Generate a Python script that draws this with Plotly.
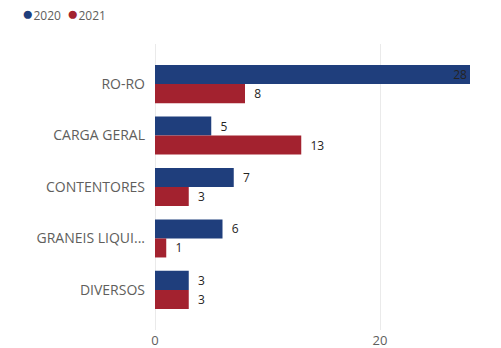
import plotly.graph_objects as go

categories = ["RO-RO", "CARGA GERAL", "CONTENTORES", "GRANEIS LIQUI...", "DIVERSOS"]
values_2020 = [28, 5, 7, 6, 3]
values_2021 = [8, 13, 3, 1, 3]
series_names = ["2020", "2021"]
colors = ["#1F3E7C", "#A3222F"]
x_ticks = [0, 20]

fig = go.Figure()
for name, vals, color in zip(series_names, [values_2020, values_2021], colors):
    positions = ["inside" if v >= 20 else "outside" for v in vals]
    templates = ["%{x}" if p == "inside" else "\u00a0\u00a0%{x}" for p in positions]
    fig.add_trace(go.Bar(
        name=name,
        y=categories,
        x=vals,
        orientation="h",
        marker=dict(color=color, line=dict(width=0)),
        textposition=positions,
        texttemplate=templates,
        insidetextanchor="end",
        textangle=0,
        constraintext="none",
        textfont=dict(family="Open Sans", size=12, color="#252423"),
        cliponaxis=False,
        showlegend=False,
    ))

# legend drawn as a single line of coloured dots and series names
legend_text = "\u2002".join(
    f"<span style='color:{c}; font-size:19px'>\u25CF</span><span style='color:#605E5C'>{n}</span>"
    for n, c in zip(series_names, colors)
)
fig.add_annotation(
    text=legend_text, xref="paper", yref="paper", x=-0.418, y=1.107,
    xanchor="left", yanchor="middle", showarrow=False,
    font=dict(family="Open Sans", size=12, color="#605E5C"),
)

fig.update_layout(
    width=501, height=348,
    margin=dict(l=155, r=22, t=44, b=18),
    paper_bgcolor="white", plot_bgcolor="white",
    barmode="group", bargap=0.26, bargroupgap=0,
    font=dict(family="Open Sans", size=12, color="#605E5C"),
)
fig.update_xaxes(
    range=[0, 28.8], tickvals=x_ticks, showgrid=True, gridcolor="#EAEAEA",
    gridwidth=1, zeroline=True, zerolinecolor="#EAEAEA", zerolinewidth=1,
    showline=False, ticks="", tickfont=dict(size=13, color="#605E5C"),
    ticklabelstandoff=1, automargin=False,
)
fig.update_yaxes(
    categoryorder="array", categoryarray=categories, autorange=False,
    range=[4.78, -0.78], showgrid=False, showline=False, ticks="",
    ticklabelstandoff=9, tickfont=dict(size=14, color="#605E5C"),
    automargin=False,
)

fig.write_html("out.html")
